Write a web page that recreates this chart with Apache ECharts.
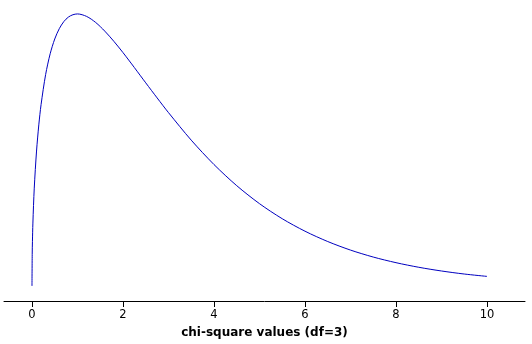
<!DOCTYPE html>
<html>
<head>
<meta charset="utf-8">
<script src="https://cdn.jsdelivr.net/npm/echarts@6/dist/echarts.min.js"></script>
<style>html,body{margin:0;padding:0;background:#fff}#c{width:532px;height:344px}</style>
</head>
<body>
<div id="c"></div>
<script>
// values
const xValues = [0, 0.005, 0.01, 0.02, 0.05, 0.1, 0.15, 0.2, 0.3, 0.4, 0.5, 0.6, 0.7, 0.8, 0.9, 1.0,
  1.2, 1.4, 1.6, 1.8, 2.0, 2.25, 2.5, 2.75, 3.0, 3.5, 4.0, 4.5, 5.0, 5.5, 6.0, 6.5, 7.0, 7.5, 8.0, 8.5, 9.0, 9.5, 10];
const density = [0, 0.0281, 0.0397, 0.0559, 0.0870, 0.1200, 0.1433, 0.1614, 0.1881, 0.2066, 0.2197, 0.2289, 0.2352, 0.2392, 0.2413, 0.2420,
  0.2398, 0.2344, 0.2267, 0.2176, 0.2076, 0.1943, 0.1807, 0.1673, 0.1542, 0.1297, 0.1080, 0.0892, 0.0732, 0.0598, 0.0487, 0.0395, 0.0319, 0.0257, 0.0207, 0.0166, 0.0133, 0.0106, 0.0085];
const tickValues = [0, 2, 4, 6, 8, 10];
const axisTitle = 'chi-square values (df=3)';

const chart = echarts.init(document.getElementById('c'), null, {renderer: 'canvas'});
chart.setOption({
  animation: false,
  backgroundColor: '#ffffff',
  grid: {left: 4, right: 7, top: 10, bottom: 43},
  xAxis: {
    type: 'value',
    min: -0.615,
    max: 10.835,
    name: axisTitle,
    nameLocation: 'middle',
    nameGap: 26,
    nameTextStyle: {fontFamily: 'DejaVu Sans', fontSize: 12, fontWeight: 'bold', color: '#000'},
    axisLine: {show: true, onZero: false, lineStyle: {color: '#000', width: 1}},
    axisTick: {show: true, length: 6, customValues: tickValues, lineStyle: {color: '#000'}},
    axisLabel: {customValues: tickValues, margin: 8, fontFamily: 'DejaVu Sans', fontSize: 11.5, color: '#000'},
    splitLine: {show: false}
  },
  yAxis: {
    type: 'value',
    min: -0.0134,
    max: 0.2455,
    show: false
  },
  series: [{
    type: 'line',
    data: xValues.map((x, i) => [x, density[i]]),
    showSymbol: false,
    smooth: 0.3,
    lineStyle: {color: '#0000c0', width: 1}
  }]
});
</script>
</body>
</html>
